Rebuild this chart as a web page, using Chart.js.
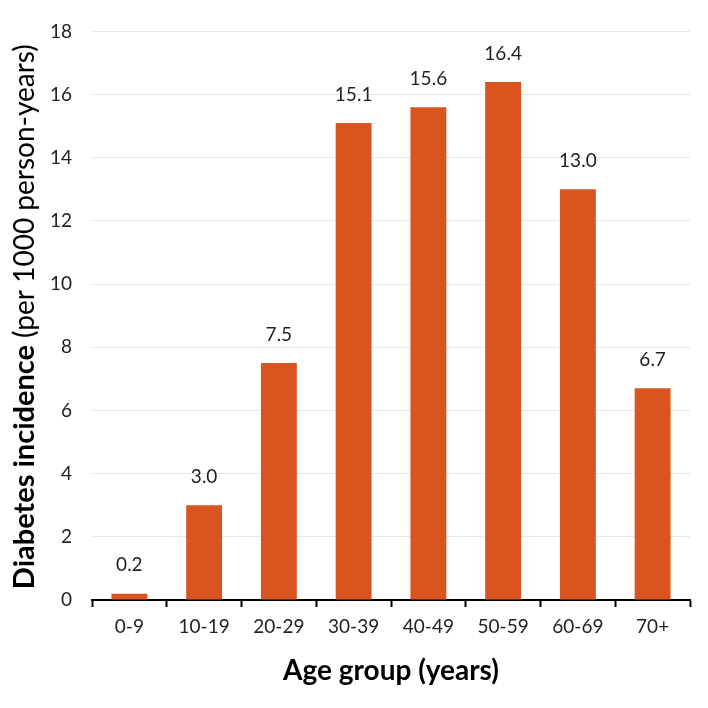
<!DOCTYPE html>
<html>
<head>
<meta charset="utf-8">
<script src="https://cdn.jsdelivr.net/npm/chart.js@4"></script>
<style>
  html, body { margin: 0; padding: 0; background: #fff; }
  #wrap { width: 708px; height: 708px; }
</style>
</head>
<body>
<div id="wrap"><canvas id="barChart"></canvas></div>
<script>
var ageGroups = ["0-9", "10-19", "20-29", "30-39", "40-49", "50-59", "60-69", "70+"];
var incidence = [0.2, 3.0, 7.5, 15.1, 15.6, 16.4, 13.0, 6.7];
var labelText = ["0.2", "3.0", "7.5", "15.1", "15.6", "16.4", "13.0", "6.7"];
var yTicks = [0, 2, 4, 6, 8, 10, 12, 14, 16, 18];

var barColor = "#D9541E";
var fontName = "Lato, 'Open Sans', sans-serif";

// value labels above the bars
const valueLabels = {
  id: "valueLabels",
  afterDatasetsDraw(chart) {
    const ctx = chart.ctx;
    const meta = chart.getDatasetMeta(0);
    ctx.save();
    ctx.font = "19px " + fontName;
    ctx.fillStyle = "#222";
    ctx.textAlign = "center";
    ctx.textBaseline = "bottom";
    meta.data.forEach(function(bar, i) {
      ctx.fillText(labelText[i], bar.x, bar.y - 19);
    });
    ctx.restore();
  }
};

// y title with bold + normal parts
const yTitle = {
  id: "yTitle",
  afterDraw(chart) {
    const ctx = chart.ctx;
    const area = chart.chartArea;
    const boldPart = "Diabetes incidence ";
    const normalPart = "(per 1000 person-years)";
    ctx.save();
    ctx.translate(25, (area.top + area.bottom) / 2 + 1);
    ctx.rotate(-Math.PI / 2);
    ctx.textBaseline = "middle";
    ctx.fillStyle = "#000";
    ctx.font = "bold 29px " + fontName;
    const w1 = ctx.measureText(boldPart).width;
    ctx.font = "28px " + fontName;
    const w2 = ctx.measureText(normalPart).width;
    let x = -(w1 + w2) / 2;
    ctx.font = "bold 29px " + fontName;
    ctx.textAlign = "left";
    ctx.fillText(boldPart, x, 0);
    ctx.font = "28px " + fontName;
    ctx.fillText(normalPart, x + w1, 0);
    ctx.restore();
  }
};

new Chart(document.getElementById("barChart"), {
  type: "bar",
  data: {
    labels: ageGroups,
    datasets: [{
      data: incidence,
      backgroundColor: barColor,
      barPercentage: 0.48,
      categoryPercentage: 1.0
    }]
  },
  options: {
    responsive: true,
    maintainAspectRatio: false,
    animation: false,
    layout: { padding: { top: 22, right: 18, left: 0, bottom: 16 } },
    plugins: {
      legend: { display: false },
      tooltip: { enabled: false }
    },
    scales: {
      x: {
        offset: true,
        grid: {
          offset: true,
          drawOnChartArea: false,
          drawTicks: true,
          tickLength: 7,
          tickColor: "#000",
          tickWidth: 2
        },
        border: { display: true, color: "#000", width: 2 },
        ticks: {
          color: "#222",
          font: { family: fontName, size: 19 },
          padding: 8,
          maxRotation: 0
        },
        title: {
          display: true,
          text: "Age group (years)",
          color: "#000",
          font: { family: fontName, size: 28, weight: "bold" },
          padding: { top: 10 }
        },
        afterFit: function(scale) { scale.height = 92; }
      },
      y: {
        min: 0,
        max: 18,
        afterBuildTicks: function(scale) {
          scale.ticks = yTicks.map(function(v) { return { value: v }; });
        },
        grid: {
          color: "#e6e6e6",
          lineWidth: 1,
          drawTicks: false
        },
        border: { display: false },
        ticks: {
          color: "#222",
          font: { family: fontName, size: 19 },
          padding: 20
        },
        afterFit: function(scale) { scale.width = 92; }
      }
    }
  },
  plugins: [valueLabels, yTitle]
});
</script>
</body>
</html>
